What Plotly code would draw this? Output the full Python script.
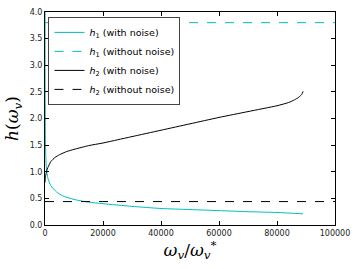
import plotly.graph_objects as go

# h1 (with noise)
h1_x = [30, 60, 150, 300, 500, 1000, 2000, 4000, 6000, 10000, 15000, 20000,
        30000, 40000, 50000, 60000, 70000, 80000, 89000]
h1_y = [4.1, 2.6, 1.6, 1.25, 1.05, 0.88, 0.74, 0.62, 0.55, 0.48, 0.43, 0.40,
        0.35, 0.31, 0.29, 0.27, 0.25, 0.235, 0.21]

# h2 (with noise)
h2_x = [0, 100, 300, 600, 1000, 2000, 3500, 5000, 7500, 10000, 15000, 20000,
        25000, 30000, 40000, 50000, 60000, 70000, 80000, 84000, 86000, 87500,
        88500, 89000]
h2_y = [0.80, 0.88, 0.95, 1.02, 1.08, 1.19, 1.27, 1.32, 1.38, 1.42, 1.49, 1.54,
        1.60, 1.66, 1.78, 1.90, 2.02, 2.13, 2.24, 2.30, 2.35, 2.40, 2.45, 2.51]

# noiseless references
h1_const = 3.8
h2_const = 0.44
x_range = [0, 100000]

x_ticks = [0, 20000, 40000, 60000, 80000, 100000]
y_ticks = [0.0, 0.5, 1.0, 1.5, 2.0, 2.5, 3.0, 3.5, 4.0]

cyan = "#00BFBF"

fig = go.Figure()
fig.add_trace(go.Scatter(x=h1_x, y=h1_y, mode="lines",
                         line=dict(color=cyan, width=1, shape="spline", smoothing=0.6),
                         name="<i>h</i><sub>1</sub> (with noise)"))
fig.add_trace(go.Scatter(x=x_range, y=[h1_const, h1_const], mode="lines",
                         line=dict(color=cyan, width=1, dash="dash"),
                         name="<i>h</i><sub>1</sub> (without noise)"))
fig.add_trace(go.Scatter(x=h2_x, y=h2_y, mode="lines",
                         line=dict(color="black", width=1, shape="spline", smoothing=0.6),
                         name="<i>h</i><sub>2</sub> (with noise)"))
fig.add_trace(go.Scatter(x=x_range, y=[h2_const, h2_const], mode="lines",
                         line=dict(color="black", width=1, dash="dash"),
                         name="<i>h</i><sub>2</sub> (without noise)"))

axis_common = dict(showline=True, linecolor="black", linewidth=1, mirror="allticks",
                   ticks="inside", ticklen=4, tickcolor="black", showgrid=False,
                   zeroline=False, automargin=False,
                   tickfont=dict(family="DejaVu Sans", size=8, color="#222"))

fig.update_layout(
    width=357, height=269,
    margin=dict(l=45, r=22, t=12, b=44),
    paper_bgcolor="white", plot_bgcolor="white",
    xaxis=dict(range=x_range, tickvals=x_ticks, ticktext=[str(v) for v in x_ticks],
               title=dict(text="<i>ω<sub>v</sub></i>/<i>ω<sub>v</sub></i><sup>*</sup>",
                          font=dict(family="DejaVu Serif", size=17, color="black"),
                          standoff=4),
               **axis_common),
    yaxis=dict(range=[0, 4], tickvals=y_ticks, ticktext=[f"{v:.1f}" for v in y_ticks],
               title=dict(text="<i>h</i>(<i>ω<sub>v</sub></i>)",
                          font=dict(family="DejaVu Serif", size=17, color="black"),
                          standoff=6),
               **axis_common),
    legend=dict(x=0.012, y=0.977, xanchor="left", yanchor="top",
                bgcolor="white", bordercolor="#444", borderwidth=1,
                font=dict(family="DejaVu Sans", size=9.5, color="black"),
                tracegroupgap=0, itemwidth=30),
    showlegend=True,
)

fig.write_html("out.html", config={"displayModeBar": False},
               post_script="document.body.style.margin='0';document.body.style.overflow='hidden';")
